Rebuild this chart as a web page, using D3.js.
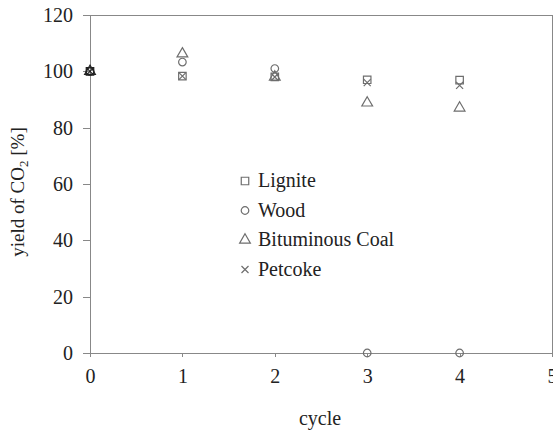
<html>
<body style="margin:0">
<script src="https://d3js.org/d3.v7.min.js"></script>
<script>
// data
const cycles = [0, 1, 2, 3, 4]
const lignite = [100, 98.3, 98, 97, 96.9]
const wood = [100, 103.3, 101, 0, 0]
const bituminous = [100, 106.2, 98, 88.8, 87]
const petcoke = [100, 98.3, 98, 96, 95]
const seriesNames = ["Lignite", "Wood", "Bituminous Coal", "Petcoke"]
const xTicks = [0, 1, 2, 3, 4, 5]
const yTicks = [0, 20, 40, 60, 80, 100, 120]

const serif = "Liberation Serif"
const axisColor = "#888"

const W = 553, H = 434
const margin = {top: 15, right: 1, bottom: 81, left: 90}
const width = W - margin.left - margin.right,
      height = H - margin.top - margin.bottom

const svg = d3.select("body").append("svg")
    .attr("width", W).attr("height", H)
    .attr("font-family", serif)

const g = svg.append("g")
    .attr("transform", `translate(${margin.left},${margin.top})`)

const x = d3.scaleLinear().domain([0, 5]).range([0, width])
const y = d3.scaleLinear().domain([0, 120]).range([height, 0])

// frame (top and right)
g.append("path")
    .attr("d", `M0,0H${width}V${height}`)
    .attr("fill", "none").attr("stroke", axisColor)
    .attr("shape-rendering", "crispEdges")

const styleAxis = sel => {
  sel.attr("font-family", serif).attr("font-size", 20)
  sel.selectAll("path, line").attr("stroke", axisColor).attr("shape-rendering", "crispEdges")
  sel.selectAll("text").attr("fill", "#222")
}

const xAxis = g.append("g")
    .attr("transform", `translate(0,${height})`)
    .call(d3.axisBottom(x).tickValues(xTicks).tickSize(4).tickPadding(12).tickFormat(d3.format("d")))
    .call(styleAxis)

const yAxis = g.append("g")
    .call(d3.axisLeft(y).tickValues(yTicks).tickSize(7).tickPadding(10))
    .call(styleAxis)
yAxis.select(".domain").attr("d", `M0,${height}V0`)

// axis titles
svg.append("text")
    .attr("x", 320).attr("y", 425)
    .attr("text-anchor", "middle").attr("font-size", 20).attr("fill", "#222")
    .text("cycle")

const yl = svg.append("text")
    .attr("transform", `translate(24,192) rotate(-90)`)
    .attr("text-anchor", "middle").attr("font-size", 19).attr("fill", "#222")
yl.append("tspan").text("yield of CO")
yl.append("tspan").attr("font-size", 13).attr("dy", 4).text("2")
yl.append("tspan").attr("dy", -4).text(" [%]")

const markerColor = "#6e6e6e"
const symbols = [
  d3.symbol().type(d3.symbolSquare).size(56),
  d3.symbol().type(d3.symbolCircle).size(45),
  d3.symbol().type(d3.symbolTriangle).size(50),
  d3.symbol().type(d3.symbolCross).size(50)
]
const xMark = () => "M-3.5,-3.5L3.5,3.5M-3.5,3.5L3.5,-3.5"
const allSeries = [lignite, wood, bituminous, petcoke]

allSeries.forEach((vals, si) => {
  g.append("g").selectAll("path")
    .data(vals)
    .join("path")
    .attr("transform", (d, i) => `translate(${x(cycles[i])},${y(d)})`)
    .attr("d", si === 3 ? xMark : symbols[si])
    .attr("fill", "none")
    .attr("stroke", (d, i) => i === 0 ? "#222" : markerColor)
    .attr("stroke-width", 1.2)
})

// legend
const legend = svg.append("g").attr("transform", "translate(245,181)")
seriesNames.forEach((name, i) => {
  const row = legend.append("g").attr("transform", `translate(0,${i * 29.5})`)
  row.append("path")
      .attr("d", i === 3 ? xMark() : symbols[i]())
      .attr("fill", "none").attr("stroke", markerColor).attr("stroke-width", 1.2)
  row.append("text").attr("x", 13).attr("y", 6).attr("font-size", 20)
      .attr("fill", "#222").text(name)
})
</script>
</body>
</html>
